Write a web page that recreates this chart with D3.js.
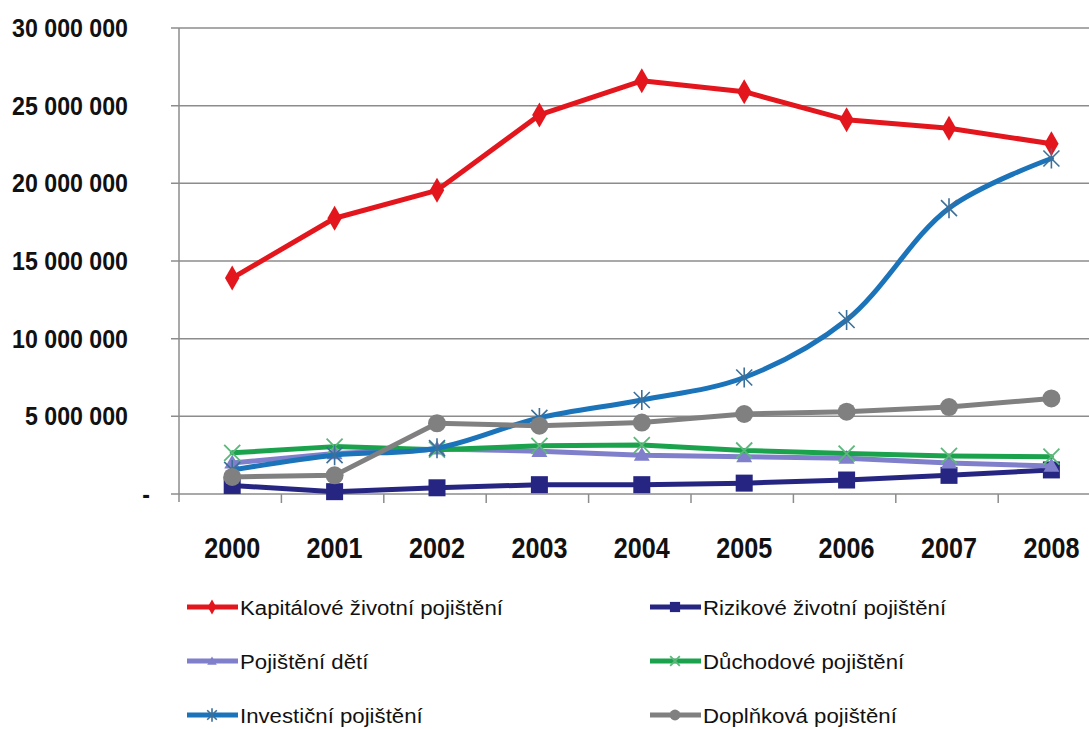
<!DOCTYPE html>
<html><head><meta charset="utf-8">
<script src="https://cdn.jsdelivr.net/npm/d3@7"></script>
<style>
html,body{margin:0;padding:0;background:#fff;}
svg{display:block;}
</style></head>
<body>
<svg id="chart" width="1089" height="729"></svg>
<script>
const years = ["2000","2001","2002","2003","2004","2005","2006","2007","2008"];
const yTicks = [0, 5000000, 10000000, 15000000, 20000000, 25000000, 30000000];

const kapitalove = [13900000, 17750000, 19550000, 24400000, 26600000, 25900000, 24100000, 23550000, 22550000];
const rizikove   = [550000, 150000, 400000, 600000, 600000, 700000, 900000, 1200000, 1550000];
const deti       = [2000000, 2600000, 2900000, 2750000, 2500000, 2400000, 2300000, 2000000, 1800000];
const duchodove  = [2650000, 3050000, 2850000, 3100000, 3150000, 2800000, 2600000, 2450000, 2400000];
const investicni = [1550000, 2500000, 2950000, 4900000, 6050000, 7500000, 11200000, 18400000, 21600000];
const doplnkova  = [1100000, 1200000, 4550000, 4400000, 4600000, 5150000, 5300000, 5600000, 6150000];

const seriesNames = ["Kapitálové životní pojištění","Rizikové životní pojištění","Pojištění dětí","Důchodové pojištění","Investiční pojištění","Doplňková pojištění"];

const series = [
  {name: seriesNames[0], values: kapitalove, color: "#e3161d", marker: "diamond", smooth: false},
  {name: seriesNames[1], values: rizikove,   color: "#262682", marker: "square", smooth: false},
  {name: seriesNames[2], values: deti,       color: "#7f7fcc", marker: "triangle", smooth: false},
  {name: seriesNames[3], values: duchodove,  color: "#1ba24c", marker: "x", smooth: false},
  {name: seriesNames[4], values: investicni, color: "#1b73b9", marker: "star", smooth: true},
  {name: seriesNames[5], values: doplnkova,  color: "#808080", marker: "circle", smooth: false}
];

const svg = d3.select("#chart");
const plotLeft = 179, step = 102.4, plotTop = 28, plotBottom = 494;
const x = d3.scaleBand().domain(years).range([plotLeft, plotLeft + step * years.length]);
const y = d3.scaleLinear().domain([0, 30000000]).range([plotBottom, plotTop]);

const fmt = v => v === 0 ? "-" : d3.format(",")(v).replace(/,/g, " ");
const numFont = "'Liberation Sans Narrow','Arial Narrow','Liberation Sans',Arial,sans-serif";

// condense a text selection horizontally so that a reference string has the target width
function condense(sel, refWidthFn) {
  sel.each(function() {
    const t = d3.select(this);
    const px = +t.attr("data-x"), py = +t.attr("data-y");
    const k = refWidthFn(this);
    t.attr("x", 0).attr("y", 0).attr("transform", `translate(${px},${py}) scale(${k},1)`);
  });
}

// gridlines
svg.append("g").selectAll("line").data(yTicks).join("line")
  .attr("x1", plotLeft - 8).attr("x2", 1089)
  .attr("y1", d => y(d)).attr("y2", d => y(d))
  .attr("stroke", "#8c8c8c").attr("stroke-width", 1.5);

// y axis line
svg.append("line").attr("x1", plotLeft).attr("x2", plotLeft).attr("y1", plotTop).attr("y2", plotBottom + 8)
  .attr("stroke", "#8c8c8c").attr("stroke-width", 1.5);

// x ticks at band boundaries
const bounds = years.map(d => x(d)).concat([x(years[years.length-1]) + x.bandwidth()]);
svg.append("g").selectAll("line").data(bounds.slice(1)).join("line")
  .attr("x1", d => d).attr("x2", d => d).attr("y1", plotBottom).attr("y2", plotBottom + 9)
  .attr("stroke", "#8c8c8c").attr("stroke-width", 1.5);

// y labels
const yl = svg.append("g").selectAll("text").data(yTicks).join("text")
  .attr("data-x", d => d === 0 ? 150 : 128)
  .attr("data-y", d => y(d) + 9)
  .attr("text-anchor", "end")
  .attr("font-family", numFont).attr("font-weight", "bold").attr("font-size", 25)
  .attr("fill", "#111")
  .text(fmt);
{
  const wRef = yl.filter(d => d === 30000000).node().getComputedTextLength();
  const k = 116 / wRef;
  condense(yl, () => k);
}

// x labels
const xl = svg.append("g").selectAll("text").data(years).join("text")
  .attr("data-x", d => x(d) + x.bandwidth() / 2 + 2)
  .attr("data-y", 558)
  .attr("text-anchor", "middle")
  .attr("font-family", numFont).attr("font-weight", "bold").attr("font-size", 30)
  .attr("fill", "#111")
  .text(d => d);
{
  const wRef = xl.filter(d => d === "2000").node().getComputedTextLength();
  const k = 56 / wRef;
  condense(xl, () => k);
}

const cx = i => x(years[i]) + x.bandwidth() / 2 + 2;

function drawMarker(g, type, color, px, py, scale) {
  const s = scale || 1;
  if (type === "diamond") {
    g.append("path").attr("d", d3.symbol(d3.symbolDiamond, 180 * s * s)()).attr("transform", `translate(${px},${py})`).attr("fill", color);
  } else if (type === "square") {
    const w = 17 * s;
    g.append("rect").attr("x", px - w/2).attr("y", py - w/2).attr("width", w).attr("height", w).attr("fill", color);
  } else if (type === "triangle") {
    g.append("path").attr("d", d3.symbol(d3.symbolTriangle, 110 * s * s)()).attr("transform", `translate(${px},${py + 1})`).attr("fill", color);
  } else if (type === "circle") {
    g.append("circle").attr("cx", px).attr("cy", py).attr("r", 9 * s).attr("fill", color);
  } else if (type === "x") {
    const r = 8 * s;
    g.append("path").attr("d", `M${px-r},${py-r}L${px+r},${py+r}M${px-r},${py+r}L${px+r},${py-r}`)
      .attr("stroke", "#5bb87a").attr("stroke-width", 1.8).attr("fill", "none");
  } else if (type === "star") {
    const r = 8 * s;
    g.append("path").attr("d", `M${px-r},${py-r}L${px+r},${py+r}M${px-r},${py+r}L${px+r},${py-r}M${px},${py-r-2}L${px},${py+r+2}`)
      .attr("stroke", "#3c6f99").attr("stroke-width", 1.6).attr("fill", "none");
  }
}

const lineStraight = d3.line().x((d, i) => cx(i)).y(d => y(d));
const lineSmooth = d3.line().x((d, i) => cx(i)).y(d => y(d)).curve(d3.curveCatmullRom.alpha(0.5));

series.forEach(s => {
  const g = svg.append("g");
  g.append("path").datum(s.values).attr("d", s.smooth ? lineSmooth : lineStraight)
    .attr("fill", "none").attr("stroke", s.color).attr("stroke-width", 5).attr("stroke-linejoin", "round").attr("stroke-linecap", "round");
  s.values.forEach((v, i) => drawMarker(g, s.marker, s.color, cx(i), y(v)));
});

// legend
const legFont = "'Liberation Sans Narrow','Arial Narrow','Liberation Sans',Arial,sans-serif";
const legTexts = [];
series.forEach((s, k) => {
  const col = k % 2, row = Math.floor(k / 2);
  const lx = col === 0 ? 187 : 650;
  const ly = 607 + row * 54;
  const g = svg.append("g");
  g.append("line").attr("x1", lx).attr("x2", lx + 51).attr("y1", ly).attr("y2", ly)
    .attr("stroke", s.color).attr("stroke-width", 5);
  drawMarker(g, s.marker, s.color, lx + 25, ly, 0.6);
  const t = g.append("text").attr("data-x", lx + 53).attr("data-y", ly + 8)
    .attr("font-family", legFont).attr("font-size", 21).attr("fill", "#111")
    .text(s.name);
  legTexts.push(t.node());
});
{
  const wRef = legTexts[0].getComputedTextLength();
  const k = 263 / wRef;
  condense(d3.selectAll(legTexts), () => k);
}
</script>
</body></html>
